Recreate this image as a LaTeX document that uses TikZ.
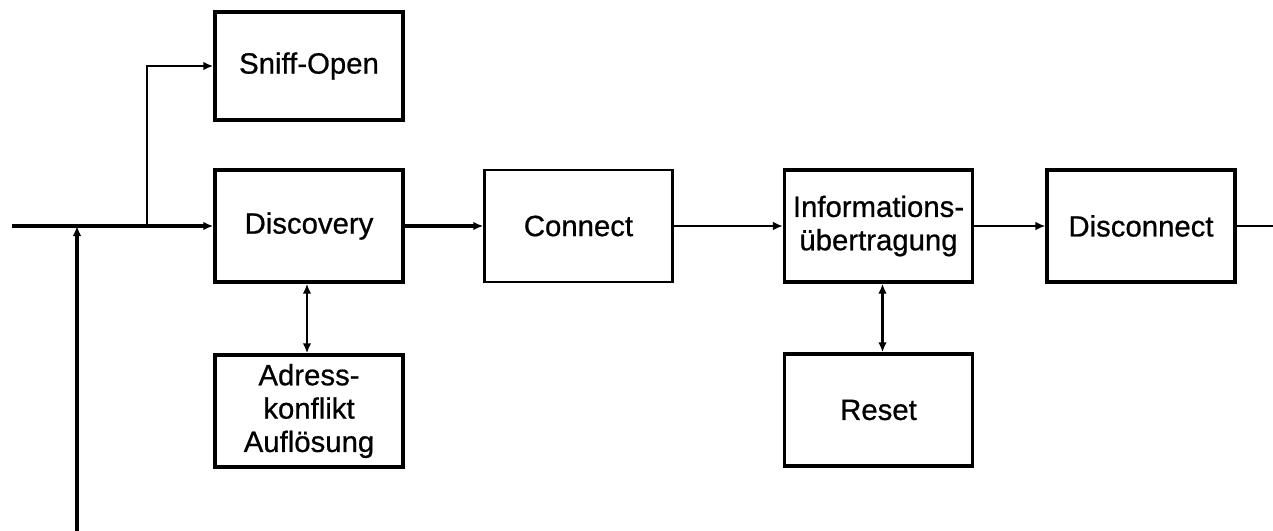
\documentclass[tikz,border=0pt]{standalone}
\usepackage{fontspec}
\setmainfont{Liberation Sans}
\newfontfamily\boxfont{Liberation Sans}[BoldFont=Liberation Sans, BoldFeatures={FakeBold=0.7}]
\usetikzlibrary{arrows.meta}

\tikzset{
  blockbox/.style={draw=black, line width=2.6pt, minimum width=141pt, minimum height=84pt,
    align=center, inner sep=2pt, font=\fontsize{22}{25}\boxfont\bfseries},
  thinline/.style={draw=black, line width=1.2pt},
  thickline/.style={draw=black, line width=2.6pt},
  tip/.style={-{Latex[length=7.5pt,width=6.5pt]}},
  twotip/.style={{Latex[length=7.5pt,width=6.5pt]}-{Latex[length=7.5pt,width=6.5pt]}}
}

\begin{document}
\begin{tikzpicture}[x=0.75pt,y=0.75pt,yscale=-1,xscale=1]
\useasboundingbox (0,0) rectangle (1273,531);

%Shape: Rectangle
\node [blockbox, minimum height=81pt] (sniff) at (309,66) {Sniff-Open};
%Shape: Rectangle
\node [blockbox] (disc) at (309,226) {Discovery};
%Shape: Rectangle
\node [blockbox] (adr) at (309,411) {Adress-\\konflikt\\Auflösung};
%Shape: Rectangle
\node [blockbox, line width=1.8pt] (conn) at (578.5,226) {Connect};
%Shape: Rectangle
\node [blockbox] (info) at (878.5,226) {Informations-\\übertragung};
%Shape: Rectangle
\node [blockbox] (reset) at (878.5,410) {Reset};
%Shape: Rectangle
\node [blockbox] (discon) at (1141,226) {Disconnect};

\coordinate (start) at (12,226);
\coordinate (junc) at (147,226);
\coordinate (feed) at (77,531);
\coordinate (rend) at (1273,226);

%Straight Lines
\draw [thickline, tip] (start) -- (disc.west);
\draw [thinline, line width=1.8pt, tip] (junc) |- (sniff.west);
\draw [thickline, tip] (feed) -- (feed |- start);
%Straight Lines
\draw [thickline, tip] (disc.east) -- (conn.west);
\draw [thinline, tip] (conn.east) -- (info.west);
\draw [thinline, tip] (info.east) -- (discon.west);
\draw [thinline] (discon.east) -- (rend);
%Straight Lines
\draw [thinline, line width=1.5pt, twotip] ([xshift=-1.5pt]disc.south) -- ([xshift=-1.5pt]adr.north);
\draw [thickline, twotip] ([xshift=3pt]info.south) -- ([xshift=3pt]reset.north);

\end{tikzpicture}
\end{document}
